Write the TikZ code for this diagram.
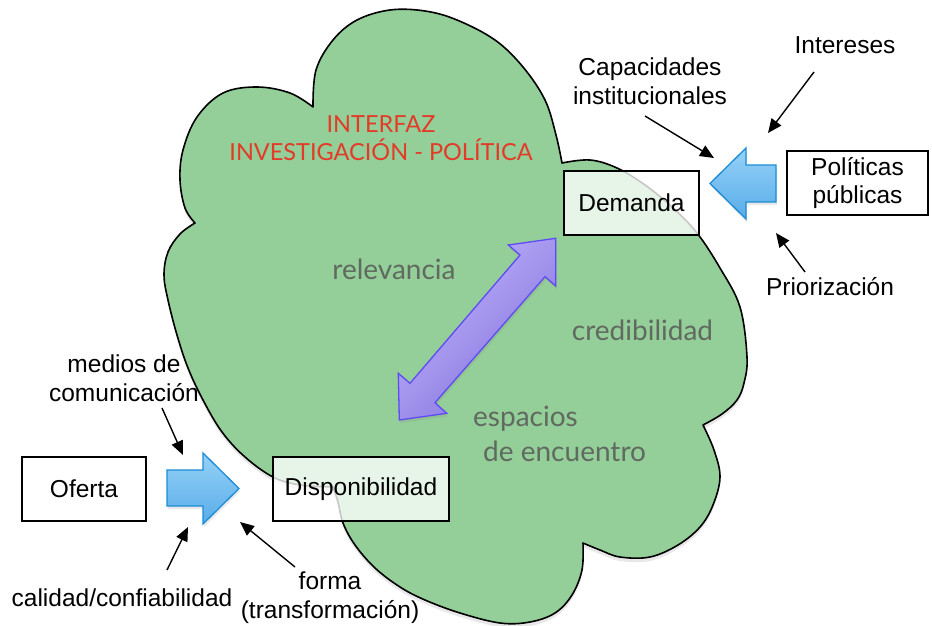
\documentclass[tikz,border=0pt]{standalone}
\usepackage{fontspec}
\setmainfont{Liberation Sans}
\newfontfamily\gillfont{Lato}
\usetikzlibrary{arrows.meta,shadows}
\definecolor{cloudgreen}{RGB}{148,206,152}
\definecolor{titlered}{RGB}{228,58,40}
\definecolor{innergrey}{RGB}{96,106,96}
\definecolor{bluetop}{RGB}{150,210,248}
\definecolor{bluebot}{RGB}{88,172,232}
\definecolor{blueedge}{RGB}{28,140,215}
\definecolor{purplelight}{RGB}{192,182,250}
\definecolor{purpledark}{RGB}{132,112,222}
\definecolor{purpleedge}{RGB}{95,75,245}
\tikzset{
 box/.style={draw=black, line width=1.3pt, minimum height=64pt, inner sep=0pt, font=\fontsize{24.5}{28}\selectfont},
 transbox/.style={box, fill=white, fill opacity=0.78, text opacity=1},
 lbl/.style={font=\fontsize{24.5}{28.5}\selectfont, align=center, inner sep=0pt},
 innertext/.style={font=\gillfont\fontsize{28}{35}\selectfont, text=innergrey, inner sep=0pt},
 titletext/.style={font=\gillfont\fontsize{23.5}{28}\selectfont, text=titlered, inner sep=0pt},
 ptr/.style={-{Triangle[length=14pt,width=12pt]}, line width=1.4pt},
 bigarrow/.style={draw=blueedge, line width=1.3pt, top color=bluetop, bottom color=bluebot, line join=miter,
   drop shadow={opacity=0.18, shadow xshift=1pt, shadow yshift=-3pt}},
 softshadow/.style={drop shadow={opacity=0.18, shadow xshift=0pt, shadow yshift=-4pt}},
}
\begin{document}
\begin{tikzpicture}[x=1pt,y=-1pt]
\useasboundingbox (0,0) rectangle (932,626);

% cloud
\draw[fill=cloudgreen, line width=1.6pt, line join=round, softshadow]
 plot[smooth, tension=0.6] coordinates {(313,107) (316,70) (333,40) (357,20) (390,10) (425,11) (457,20) (495,40) (523,67) (545,100) (556,135) (562,163)}
 -- plot[smooth, tension=0.6] coordinates {(562,163) (590,160) (617,168) (645,185) (672,207) (697,233) (720,268) (740,307) (747,357) (744,383) (737,400) (722,414) (703,425)}
 -- plot[smooth, tension=0.6] coordinates {(703,425) (714,450) (720,477) (713,505) (700,527) (678,545) (650,557) (620,557) (600,550) (583,543)}
 -- plot[smooth, tension=0.6] coordinates {(583,543) (582,570) (572,595) (555,613) (530,622) (500,623) (460,613) (425,600) (400,587) (375,568) (355,545) (343,523) (338,502) (333,487)}
 -- plot[smooth, tension=0.6] coordinates {(333,487) (300,485) (273,477) (245,457) (222,432) (203,400) (188,368) (177,335) (168,300) (164,275) (168,252) (180,234) (195,223)}
 -- plot[smooth, tension=0.6] coordinates {(195,223) (185,208) (180,180) (183,150) (197,117) (223,93) (257,87) (290,93) (313,107)}
 -- cycle;

% texts inside the cloud
\node[titletext, anchor=base] (title1) at (381,132) {INTERFAZ};
\node[titletext, anchor=base] (title2) at (381,160) {INVESTIGACIÓN - POLÍTICA};
\node[innertext, anchor=base] (relevancia) at (394,279) {relevancia};
\node[innertext, anchor=base] (credibilidad) at (642.5,340) {credibilidad};
\node[innertext, anchor=base west] (espacios) at (473,426) {espacios};
\node[innertext, anchor=base west] (encuentro) at (483,461) {de encuentro};

% purple double arrow
\draw[draw=purpleedge, line width=1.3pt, line join=miter, top color=purplelight, bottom color=purpledark, shading angle=45,
  drop shadow={opacity=0.18, shadow xshift=1pt, shadow yshift=-3pt}]
 (555.7,238.3) -- (508.3,245) -- (520,255) -- (410,383.3) -- (398.3,373.3) -- (399.3,420)
 -- (446.7,413.3) -- (435,402.7) -- (545,276.7) -- (555.7,286) -- cycle;

% boxes
\node[box, minimum width=124pt] (oferta) at (84,489) {Oferta};
\node[transbox, minimum width=176pt] (disp) at (361,489) {Disponibilidad};
\node[transbox, minimum width=135pt] (demanda) at (631.5,203) {Demanda};
\node[box, minimum width=141pt, align=center, font=\fontsize{24.5}{28}\selectfont] (politicas) at (857.5,183) {Políticas\\públicas};

% big blue arrows
\draw[bigarrow] (167,470) -- (203,470) -- (203,453) -- (239,488.5) -- (203,524) -- (203,506) -- (167,506) -- cycle;
\draw[bigarrow] (776,165) -- (746,165) -- (746,148) -- (710,183.5) -- (746,219) -- (746,202) -- (776,202) -- cycle;

% labels
\node[lbl] (intereses) at (845,45) {Intereses};
\node[lbl] (capacidades) at (650,81) {Capacidades\\institucionales};
\node[lbl] (priorizacion) at (830,287) {Priorización};
\node[lbl] (medios) at (124,378) {medios de\\comunicación};
\node[lbl] (calidad) at (122,598) {calidad/confiabilidad};
\node[lbl] (forma) at (330,597.5) {forma\\(transformación)};

% pointer coordinates
\coordinate (intT) at (814,72);   \coordinate (intH) at (768,133);
\coordinate (capT) at (645,116);  \coordinate (capH) at (714,158);
\coordinate (priT) at (805,272);  \coordinate (priH) at (776,233);
\coordinate (medT) at (162,408);  \coordinate (medH) at (183,455);
\coordinate (calT) at (167,570);  \coordinate (calH) at (188,527);
\coordinate (forT) at (295,567);  \coordinate (forH) at (240,522);

\draw[ptr] (intT) -- (intH);
\draw[ptr] (capT) -- (capH);
\draw[ptr] (priT) -- (priH);
\draw[ptr] (medT) -- (medH);
\draw[ptr] (calT) -- (calH);
\draw[ptr] (forT) -- (forH);
\end{tikzpicture}
\end{document}
